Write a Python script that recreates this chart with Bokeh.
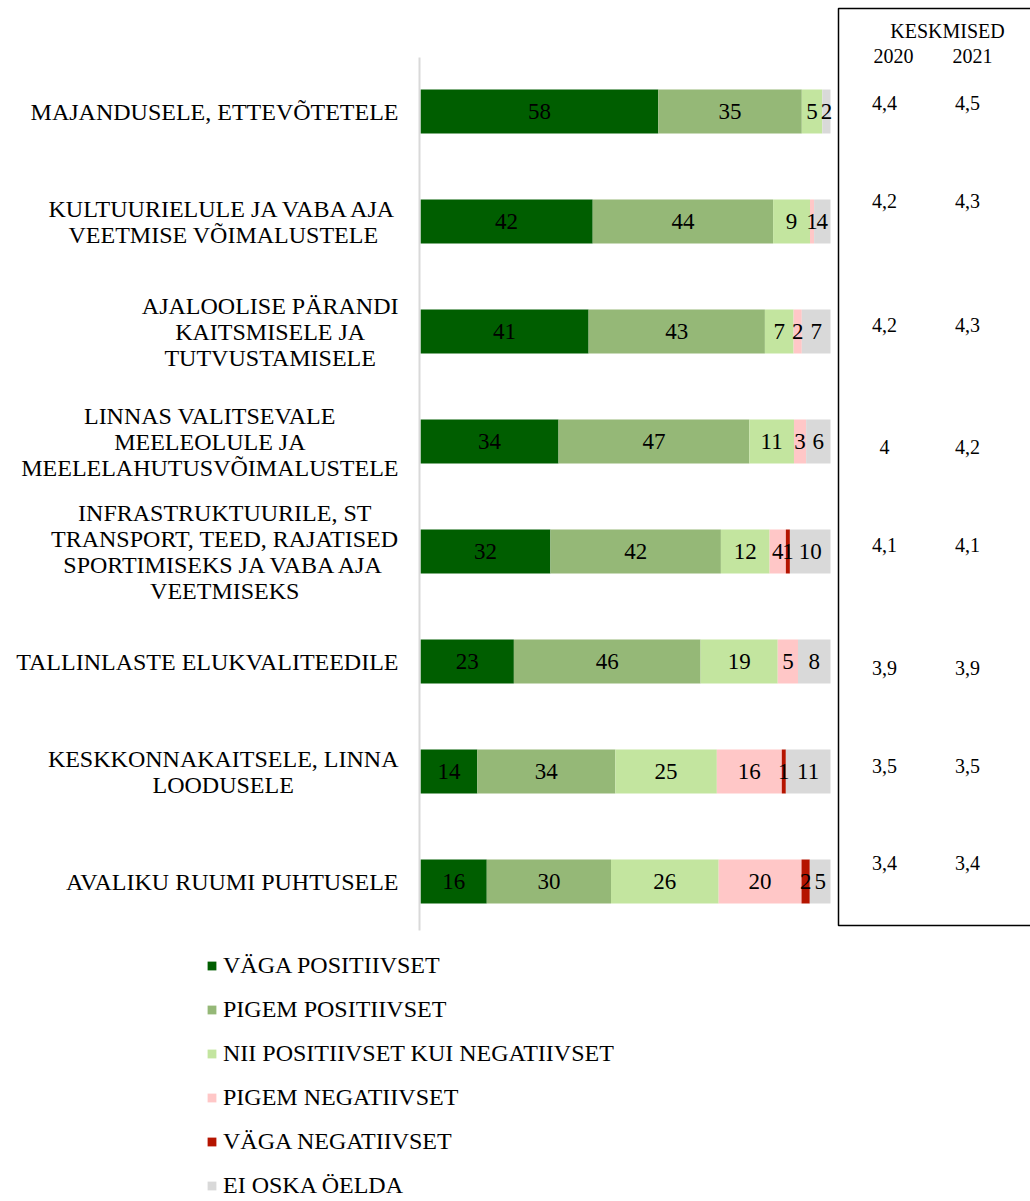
import numpy as np
from bokeh.plotting import figure
from bokeh.models import ColumnDataSource, Range1d, Legend, LegendItem
from bokeh.core.properties import value
from bokeh.embed import file_html
from bokeh.resources import INLINE

# ---------------- data ----------------
categories = [
    "MAJANDUSELE, ETTEVÕTETELE",
    "KULTUURIELULE JA VABA AJA\nVEETMISE VÕIMALUSTELE",
    "AJALOOLISE PÄRANDI\nKAITSMISELE JA\nTUTVUSTAMISELE",
    "LINNAS VALITSEVALE\nMEELEOLULE JA\nMEELELAHUTUSVÕIMALUSTELE",
    "INFRASTRUKTUURILE, ST\nTRANSPORT, TEED, RAJATISED\nSPORTIMISEKS JA VABA AJA\nVEETMISEKS",
    "TALLINLASTE ELUKVALITEEDILE",
    "KESKKONNAKAITSELE, LINNA\nLOODUSELE",
    "AVALIKU RUUMI PUHTUSELE",
]
series_names = [
    "VÄGA POSITIIVSET",
    "PIGEM POSITIIVSET",
    "NII POSITIIVSET KUI NEGATIIVSET",
    "PIGEM NEGATIIVSET",
    "VÄGA NEGATIIVSET",
    "EI OSKA ÖELDA",
]
vaga_positiivset = [58, 42, 41, 34, 32, 23, 14, 16]
pigem_positiivset = [35, 44, 43, 47, 42, 46, 34, 30]
nii_kui = [5, 9, 7, 11, 12, 19, 25, 26]
pigem_negatiivset = [0, 1, 2, 3, 4, 5, 16, 20]
vaga_negatiivset = [0, 0, 0, 0, 1, 0, 1, 2]
ei_oska = [2, 4, 7, 6, 10, 8, 11, 5]
keskmised_2020 = [4.4, 4.2, 4.2, 4.0, 4.1, 3.9, 3.5, 3.4]
keskmised_2021 = [4.5, 4.3, 4.3, 4.2, 4.1, 3.9, 3.5, 3.4]
header_title = "KESKMISED"
header_years = ["2020", "2021"]

# ---------------- styles / layout ----------------
colors = ["#005E00", "#95B877", "#C3E59F", "#FFC7C7", "#B51400", "#D9D9D9"]
FONT = "Liberation Serif"
W, H = 1030, 1201
BAR_ZERO_PX = 420.0
PX_PER_PCT = 4.1
ROW0_PX = 111.0
ROW_PITCH = 110.0
n = len(categories)


def dx(px):
    return (px - BAR_ZERO_PX) / PX_PER_PCT


def dy(py):
    return (n - 1) - (py - ROW0_PX) / ROW_PITCH


series = [vaga_positiivset, pigem_positiivset, nii_kui,
          pigem_negatiivset, vaga_negatiivset, ei_oska]
vals = np.array(series, dtype=float)          # shape (6, n)
totals = vals.sum(axis=0)
norm = vals / totals * 100.0                  # 100% stacked

ypos = np.arange(n)[::-1].astype(float)       # first category at the top

keys = [f"s{k}" for k in range(len(series))]
src = ColumnDataSource(dict(y=ypos, **{k: norm[i] for i, k in enumerate(keys)}))

p = figure(width=W, height=H, output_backend="svg", toolbar_location=None,
           x_range=Range1d(dx(0), dx(W)),
           y_range=Range1d(dy(H), dy(0)),
           min_border=0, min_border_left=0, min_border_right=0,
           min_border_top=0, min_border_bottom=0)
p.axis.visible = False
p.grid.visible = False
p.outline_line_color = None
p.background_fill_color = "white"
p.border_fill_color = "white"

renderers = p.hbar_stack(keys, y="y", height=0.4, color=colors,
                         line_color=None, source=src)

# category axis line
p.segment(x0=[dx(419)], x1=[dx(419)], y0=[dy(57)], y1=[dy(930)],
          line_color="#D9D9D9", line_width=2)

# data labels inside the bars
lab_x, lab_y, lab_t = [], [], []
cum = np.zeros(n)
for i in range(len(series)):
    for j in range(n):
        if vals[i, j] > 0:
            lab_x.append(cum[j] + norm[i, j] / 2)
            lab_y.append(ypos[j])
            lab_t.append(f"{int(vals[i, j])}")
    cum += norm[i]
p.text(x=lab_x, y=lab_y, text=lab_t, text_align="center", text_baseline="middle",
       text_font=value(FONT), text_font_size="23px", text_color="black")

# category labels
p.text(x=[0] * n, y=ypos, text=categories, x_offset=-22,
       text_align="center", anchor="center_right", text_baseline="middle",
       text_line_height=1.0,
       text_font=value(FONT), text_font_size="24px", text_color="black")

# box with averages
p.quad(left=[dx(838)], right=[dx(1040)], top=[dy(8)], bottom=[dy(925)],
       fill_color=None, line_color="black", line_width=1.5)
p.text(x=[dx(947), dx(893), dx(972)], y=[dy(30), dy(55), dy(55)],
       text=[header_title] + header_years, text_align="center", text_baseline="middle",
       text_font=value(FONT), text_font_size="20px", text_color="black")


def fmt(v):
    return f"{v:g}".replace(".", ",")


avg_row_offset_px = [-9, -21, -7, 5, -7, 6, -6, -19]
p.text(x=[dx(884)] * n, y=ypos, y_offset=avg_row_offset_px,
       text=[fmt(v) for v in keskmised_2020], text_align="center", text_baseline="middle",
       text_font=value(FONT), text_font_size="20px", text_color="black")
p.text(x=[dx(967)] * n, y=ypos, y_offset=avg_row_offset_px,
       text=[fmt(v) for v in keskmised_2021], text_align="center", text_baseline="middle",
       text_font=value(FONT), text_font_size="20px", text_color="black")

# legend (pitch 44px, first item centred near y=965)
LEG_PITCH = 44
legend_bottom_px = 965 - LEG_PITCH / 2 + LEG_PITCH * len(series_names)
items = [LegendItem(label=name, renderers=[r]) for name, r in zip(series_names, renderers)]
legend = Legend(items=items, location=(206, H - legend_bottom_px), orientation="vertical",
                padding=0, margin=0, spacing=0, label_height=LEG_PITCH,
                glyph_width=11, glyph_height=11, label_standoff=6,
                label_text_font=FONT, label_text_font_size="24px",
                label_text_color="black",
                border_line_color=None, background_fill_alpha=0)
p.add_layout(legend)

open("out.html", "w").write(file_html(p, INLINE))
